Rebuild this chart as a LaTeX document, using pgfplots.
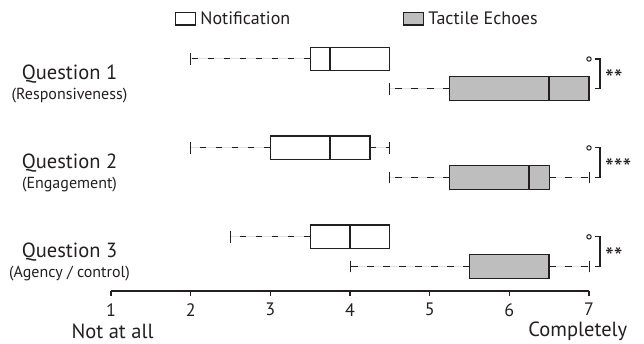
\documentclass[border=0pt]{standalone}
\usepackage{pgfplots}
\pgfplotsset{compat=1.18}
\usepgfplotslibrary{statistics}
\usepackage{fontspec}
\setmainfont{PT Sans}
\definecolor{tegray}{RGB}{190,190,190}
\definecolor{ink}{RGB}{35,31,32}
\begin{document}
\begin{tikzpicture}
\useasboundingbox (-111bp,-52bp) rectangle (533bp,291.06bp);
\begin{axis}[
  name=ax,
  scale only axis,
  width=478bp, height=261.7bp,
  xmin=1, xmax=7, ymin=-8.83, ymax=0,
  clip=false,
  axis lines*=left,
  y axis line style={draw=none},
  x axis line style={ink, line width=1.2bp},
  xtick={1,2,3,4,5,6,7},
  tick align=outside,
  major tick length=4.5bp,
  x tick style={ink, line width=1.2bp},
  x tick label style={font=\fontsize{18bp}{20bp}\selectfont, text=ink, inner sep=0bp, yshift=-7.5bp},
  /pgf/number format/assume math mode=true,
  ytick={-1.85,-4.85,-7.85},
  yticklabels={
    {Question 1\\{\fontsize{16bp}{20bp}\selectfont (Responsiveness)}},
    {Question 2\\{\fontsize{16bp}{20bp}\selectfont (Engagement)}},
    {Question 3\\{\fontsize{16bp}{20bp}\selectfont (Agency / control)}}},
  y tick style={draw=none},
  y tick label style={font=\fontsize{20.5bp}{20bp}\selectfont, align=center, anchor=center, xshift=-37bp, text=ink},
  boxplot/draw direction=x,
  boxplot/box extend=0.8,
  boxplot/whisker extend=0.4,
  boxplot/every median/.style={line width=2.4bp},
  boxplot/draw/lower whisker/.code={%
    \draw[ink, line width=1bp, dash pattern=on 6.5bp off 9.5bp]
      (boxplot cs:\pgfplotsboxplotvalue{lower quartile}) -- (boxplot cs:\pgfplotsboxplotvalue{lower whisker});
    \draw[ink, line width=1bp]
      (boxplot whisker cs:\pgfplotsboxplotvalue{lower whisker},0) -- (boxplot whisker cs:\pgfplotsboxplotvalue{lower whisker},1);
  },
  boxplot/draw/upper whisker/.code={%
    \draw[ink, line width=1bp, dash pattern=on 6.5bp off 9.5bp]
      (boxplot cs:\pgfplotsboxplotvalue{upper quartile}) -- (boxplot cs:\pgfplotsboxplotvalue{upper whisker});
    \draw[ink, line width=1bp]
      (boxplot whisker cs:\pgfplotsboxplotvalue{upper whisker},0) -- (boxplot whisker cs:\pgfplotsboxplotvalue{upper whisker},1);
  },
  legend style={at={(axis description cs:0.1339,1.0405)}, anchor=west, draw=none, fill=none, inner sep=0pt,
    font=\fontsize{18bp}{20bp}\selectfont, text=ink,
    /tikz/every even column/.append style={column sep=111bp}},
  legend columns=2,
  legend cell align=left,
  legend image code/.code={\draw[#1] (0bp,-6.25bp) rectangle (20bp,6.25bp);},
]
\addlegendimage{draw=ink, fill=white, line width=1.2bp}
\addlegendentry{\hspace{2bp}Notification}
\addlegendimage{draw=ink, fill=tegray, line width=1.2bp}
\addlegendentry{\hspace{2bp}Tactile Echoes}

% Question 1
\addplot[draw=ink, fill=white, line width=1.2bp, boxplot prepared={median=3.75, lower quartile=3.5, upper quartile=4.5, lower whisker=2, upper whisker=4.5, draw position=-1}] coordinates {};
\addplot[draw=ink, fill=tegray, line width=1.2bp, boxplot prepared={median=6.5, lower quartile=5.25, upper quartile=7, lower whisker=4.5, upper whisker=7, draw position=-2}] coordinates {};
% Question 2
\addplot[draw=ink, fill=white, line width=1.2bp, boxplot prepared={median=3.75, lower quartile=3, upper quartile=4.25, lower whisker=2, upper whisker=4.5, draw position=-4}] coordinates {};
\addplot[draw=ink, fill=tegray, line width=1.2bp, boxplot prepared={median=6.25, lower quartile=5.25, upper quartile=6.5, lower whisker=4.5, upper whisker=7, draw position=-5}] coordinates {};
% Question 3
\addplot[draw=ink, fill=white, line width=1.2bp, boxplot prepared={median=4, lower quartile=3.5, upper quartile=4.5, lower whisker=2.5, upper whisker=4.5, draw position=-7}] coordinates {};
\addplot[draw=ink, fill=tegray, line width=1.2bp, boxplot prepared={median=6.5, lower quartile=5.5, upper quartile=6.5, lower whisker=4, upper whisker=7, draw position=-8}] coordinates {};

% outliers
\addplot[only marks, mark=o, mark size=2.2bp, draw=ink, line width=1bp] coordinates {(7,-1) (7,-4) (7,-7)};

% significance brackets
\addplot[ink, line width=1.1bp] coordinates {(7.075,-1) (7.138,-1) (7.138,-2) (7.075,-2)};
\addplot[ink, line width=1.1bp] coordinates {(7.075,-4) (7.138,-4) (7.138,-5) (7.075,-5)};
\addplot[ink, line width=1.1bp] coordinates {(7.075,-7) (7.138,-7) (7.138,-8) (7.075,-8)};
\node[anchor=west, inner sep=0pt, text=ink, font=\fontsize{25bp}{25bp}\selectfont, yshift=-5bp] at (axis cs:7.2,-1.5) {**};
\node[anchor=west, inner sep=0pt, text=ink, font=\fontsize{25bp}{25bp}\selectfont, yshift=-5bp] at (axis cs:7.2,-4.5) {***};
\node[anchor=west, inner sep=0pt, text=ink, font=\fontsize{25bp}{25bp}\selectfont, yshift=-5bp] at (axis cs:7.2,-7.5) {**};

% scale end labels
\node[anchor=center, inner sep=0pt, text=ink, font=\fontsize{20.5bp}{20bp}\selectfont] at ([yshift=-40bp]axis cs:1.02,-8.83) {Not at all};
\node[anchor=center, inner sep=0pt, text=ink, font=\fontsize{20.5bp}{20bp}\selectfont] at ([yshift=-40bp]axis cs:6.86,-8.83) {Completely};
\end{axis}
\end{tikzpicture}
\end{document}
